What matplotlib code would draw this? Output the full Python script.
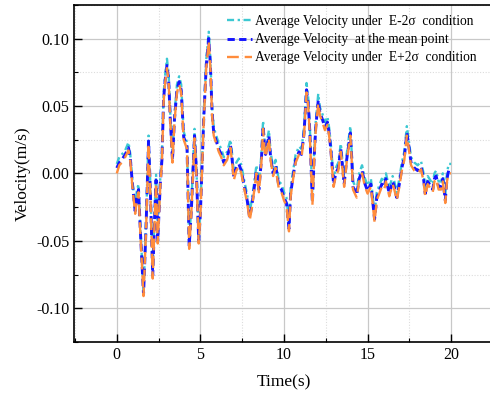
import matplotlib
matplotlib.use("Agg")
import matplotlib.pyplot as plt
from matplotlib.ticker import MultipleLocator

plt.rcParams['font.family'] = ['Liberation Serif', 'DejaVu Serif']

# time (s)
t = [0.0, 0.15, 0.3, 0.5, 0.7, 0.8, 0.95, 1.1, 1.2, 1.3,
     1.4, 1.6, 1.75, 1.9, 2.0, 2.15, 2.3, 2.35, 2.45, 2.6,
     2.7, 2.8, 2.9, 3.0, 3.1, 3.2, 3.33, 3.45, 3.6, 3.73,
     3.85, 4.0, 4.2, 4.33, 4.45, 4.65, 4.75, 4.9, 5.0, 5.2,
     5.35, 5.5, 5.6, 5.7, 5.8, 5.95, 6.1, 6.25, 6.4, 6.6,
     6.8, 6.9, 7.0, 7.15, 7.3, 7.45, 7.6, 7.8, 7.95, 8.1,
     8.25, 8.35, 8.5, 8.65, 8.75, 8.85, 8.9, 9.1, 9.2, 9.35,
     9.5, 9.7, 9.85, 10.0, 10.15, 10.3, 10.4, 10.55, 10.7, 10.9,
     11.05, 11.2, 11.35, 11.45, 11.55, 11.7, 11.8, 11.9, 12.05, 12.15,
     12.3, 12.45, 12.6, 12.7, 12.8, 12.97, 13.1, 13.25, 13.4, 13.6,
     13.75, 13.97, 14.05, 14.13, 14.35, 14.5, 14.67, 14.85, 15.0, 15.2,
     15.42, 15.55, 15.7, 15.85, 16.0, 16.1, 16.3, 16.5, 16.6, 16.75,
     16.9, 17.05, 17.2, 17.35, 17.45, 17.6, 17.8, 18.0, 18.2, 18.35,
     18.45, 18.6, 18.7, 18.9, 19.0, 19.1, 19.25, 19.4, 19.5, 19.65,
     19.75, 19.85, 20.0]

# velocity under E-2sigma condition
v_minus = [0.007, 0.012, 0.014, 0.017, 0.023, 0.015, -0.007, -0.025, -0.013, -0.008,
           -0.037, -0.087, -0.036, 0.028, -0.006, -0.072, -0.016, -0.001, -0.046, -0.004,
           0.014, 0.059, 0.074, 0.085, 0.074, 0.044, 0.013, 0.044, 0.066, 0.072,
           0.066, 0.031, 0.023, -0.051, -0.026, 0.033, 0.009, -0.047, -0.026, 0.044,
           0.084, 0.105, 0.084, 0.049, 0.034, 0.028, 0.022, 0.018, 0.012, 0.016,
           0.025, 0.014, 0.001, 0.008, 0.011, 0.006, -0.004, -0.016, -0.029, -0.018,
           -0.004, 0.006, -0.008, 0.014, 0.039, 0.022, 0.018, 0.032, 0.016, 0.004,
           0.010, -0.006, -0.008, -0.014, -0.018, -0.037, -0.011, 0.002, 0.014, 0.020,
           0.018, 0.034, 0.067, 0.056, 0.034, -0.018, 0.014, 0.038, 0.059, 0.049,
           0.044, 0.038, 0.042, 0.034, 0.022, -0.004, 0.004, 0.008, 0.022, -0.004,
           0.014, 0.035, 0.016, -0.006, -0.012, 0.000, 0.006, -0.004, -0.009, -0.004,
           -0.030, -0.014, -0.009, -0.004, -0.006, 0.000, -0.011, -0.002, -0.006, -0.014,
           -0.004, 0.008, 0.016, 0.035, 0.026, 0.012, 0.008, 0.006, 0.009, 0.000,
           -0.011, -0.002, -0.004, -0.008, 0.000, 0.002, -0.006, -0.006, 0.000, -0.016,
           0.000, 0.007, 0.007]

# velocity at the mean point
v_mean = [0.004, 0.008, 0.010, 0.014, 0.019, 0.012, -0.010, -0.028, -0.018, -0.012,
          -0.040, -0.090, -0.040, 0.024, -0.010, -0.076, -0.020, -0.005, -0.050, -0.008,
          0.010, 0.055, 0.070, 0.080, 0.070, 0.040, 0.010, 0.040, 0.062, 0.068,
          0.062, 0.027, 0.020, -0.054, -0.030, 0.028, 0.005, -0.050, -0.030, 0.040,
          0.080, 0.100, 0.080, 0.045, 0.030, 0.024, 0.018, 0.014, 0.008, 0.012,
          0.021, 0.010, -0.003, 0.004, 0.007, 0.002, -0.008, -0.020, -0.033, -0.022,
          -0.008, 0.002, -0.012, 0.010, 0.035, 0.018, 0.014, 0.028, 0.012, 0.000,
          0.006, -0.010, -0.012, -0.018, -0.022, -0.041, -0.015, -0.002, 0.010, 0.016,
          0.014, 0.030, 0.062, 0.052, 0.030, -0.022, 0.010, 0.034, 0.054, 0.045,
          0.040, 0.034, 0.038, 0.030, 0.018, -0.008, 0.000, 0.004, 0.018, -0.008,
          0.010, 0.030, 0.012, -0.010, -0.016, -0.004, 0.002, -0.008, -0.013, -0.008,
          -0.034, -0.018, -0.013, -0.008, -0.010, -0.004, -0.015, -0.006, -0.010, -0.018,
          -0.008, 0.004, 0.012, 0.030, 0.022, 0.008, 0.004, 0.002, 0.005, -0.004,
          -0.015, -0.006, -0.008, -0.012, -0.004, -0.002, -0.010, -0.010, -0.004, -0.020,
          -0.004, 0.002, 0.002]

# velocity under E+2sigma condition
v_plus = [0.000, 0.006, 0.008, 0.012, 0.017, 0.010, -0.012, -0.030, -0.020, -0.014,
          -0.042, -0.091, -0.042, 0.022, -0.012, -0.078, -0.022, -0.007, -0.052, -0.010,
          0.008, 0.053, 0.068, 0.078, 0.068, 0.038, 0.008, 0.038, 0.060, 0.066,
          0.060, 0.025, 0.018, -0.056, -0.032, 0.026, 0.003, -0.052, -0.032, 0.038,
          0.078, 0.098, 0.078, 0.043, 0.028, 0.022, 0.016, 0.012, 0.006, 0.010,
          0.019, 0.008, -0.005, 0.002, 0.005, 0.000, -0.010, -0.022, -0.035, -0.024,
          -0.010, 0.000, -0.014, 0.008, 0.033, 0.016, 0.012, 0.026, 0.010, -0.002,
          0.004, -0.012, -0.014, -0.020, -0.024, -0.043, -0.017, -0.004, 0.008, 0.014,
          0.012, 0.028, 0.060, 0.050, 0.028, -0.024, 0.008, 0.032, 0.052, 0.043,
          0.038, 0.032, 0.036, 0.028, 0.016, -0.010, -0.002, 0.002, 0.016, -0.010,
          0.008, 0.028, 0.010, -0.012, -0.018, -0.006, 0.000, -0.010, -0.015, -0.010,
          -0.036, -0.020, -0.015, -0.010, -0.012, -0.006, -0.017, -0.008, -0.012, -0.020,
          -0.010, 0.002, 0.010, 0.028, 0.020, 0.006, 0.002, 0.000, 0.003, -0.006,
          -0.017, -0.008, -0.010, -0.014, -0.006, -0.004, -0.012, -0.012, -0.006, -0.022,
          -0.006, 0.000, 0.000]

labels = ['Average Velocity under  E-2\u03c3  condition',
          'Average Velocity  at the mean point',
          'Average Velocity under  E+2\u03c3  condition']

fig = plt.figure(figsize=(4.9, 3.99), dpi=100)
ax = fig.add_axes([0.151, 0.143, 0.855, 0.845])

ax.plot(t, v_minus, color='#3cc8d2', ls=(0, (3, 1.5, 1, 1.5)), lw=1.7, label=labels[0], zorder=3)
ax.plot(t, v_mean, color='#1414ff', ls=(0, (2.5, 1.5)), lw=2.1, label=labels[1], zorder=4)
ax.plot(t, v_plus, color='#ff8c3c', ls=(0, (5, 2.5)), lw=1.7, label=labels[2], zorder=5)

ax.set_xlim(-2.56, 22.5)
ax.set_ylim(-0.125, 0.125)
ax.xaxis.set_major_locator(MultipleLocator(5))
ax.xaxis.set_minor_locator(MultipleLocator(2.5))
ax.yaxis.set_major_locator(MultipleLocator(0.05))
ax.yaxis.set_minor_locator(MultipleLocator(0.025))
ax.yaxis.set_major_formatter(plt.FuncFormatter(lambda v, p: f"{v:.2f}".replace('\u2212', '-')))

ax.grid(which='major', color='#c8c8c8', lw=0.9, ls='-')
ax.grid(which='minor', color='#dcdcdc', lw=0.8, ls=(0, (1, 1.5)))
ax.set_axisbelow(True)

ax.tick_params(which='major', direction='in', length=6, width=1.0, labelsize=11.5,
               top=False, right=False)
ax.tick_params(which='minor', direction='in', length=3, width=0.8, top=False, right=False)
for s in ['left', 'bottom', 'top']:
    ax.spines[s].set_linewidth(1.2)
ax.spines['right'].set_visible(False)

ax.set_xlabel('Time(s)', fontsize=12.5, labelpad=8)
ax.set_ylabel('Velocity(m/s)', fontsize=12.5, labelpad=4)

fig.legend(loc='upper left', bbox_to_anchor=(0.464, 0.962), frameon=False,
           fontsize=9.75, handlelength=1.8, handletextpad=0.25, labelspacing=0.38,
           borderpad=0, borderaxespad=0)

fig.savefig('out.png', dpi=100)
